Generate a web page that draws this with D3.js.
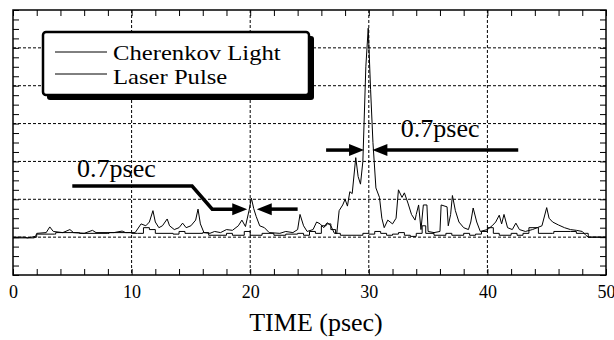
<!DOCTYPE html>
<html><head><meta charset="utf-8">
<script src="https://cdn.jsdelivr.net/npm/d3@7"></script>
<style>html,body{margin:0;padding:0;background:#fff;}svg{display:block;}
text.serif{font-family:"Liberation Serif","Times New Roman",Times,serif;}
</style>
</head><body>
<svg id="chart" width="614" height="340"></svg>
<script>
// ---------- data ----------
const seriesNames = ["Cherenkov Light", "Laser Pulse"];
const xTickLabels = [0, 10, 20, 30, 40, 50];
const xAxisTitle = "TIME (psec)";
const annotationText = "0.7psec";

// Cherenkov light trace: [time psec, signal (arb.)]
const cherenkovTime = [0,1.0,1.2,1.9,2.0,2.8,3.1,3.4,4.2,4.8,5.1,6.0,6.7,7.0,8.5,9.2,9.5,10.3,10.8,11.2,11.5,11.8,12.0,12.3,12.6,13.0,13.2,13.6,14.0,14.3,14.6,15.0,15.4,15.6,15.8,16.1,16.6,17.0,17.5,18.0,18.5,19.0,19.3,19.6,19.9,20.1,20.3,20.5,20.8,21.2,21.6,22.5,23.0,23.6,24.0,24.2,24.5,24.8,25.3,25.6,25.9,26.2,26.5,26.8,27.1,27.3,27.5,27.8,28.0,28.2,28.4,28.6,28.9,29.1,29.3,29.5,29.75,29.95,30.15,30.35,30.6,30.9,31.1,31.3,31.6,32.0,32.3,32.5,32.8,33.0,33.3,33.6,33.9,34.0,34.2,34.4,34.6,34.9,35.0,35.5,36.0,36.1,36.6,36.7,36.9,37.05,37.3,37.6,38.0,38.4,38.6,38.8,39.1,39.4,40.0,40.4,40.7,41.0,41.2,41.4,41.7,42.1,42.4,42.7,43.2,43.8,44.2,44.6,45.0,45.2,45.5,46.0,46.5,47.0,47.5,48.0,48.3,48.5,50];
const cherenkovValue = [1.0,1.0,0.98,1.02,1.1,1.12,1.27,1.15,1.12,1.2,1.12,1.1,1.18,1.12,1.12,1.16,1.12,1.12,1.35,1.3,1.4,1.7,1.4,1.25,1.3,1.48,1.3,1.2,1.25,1.37,1.25,1.3,1.45,1.74,1.35,1.12,1.1,1.15,1.12,1.2,1.18,1.3,1.45,1.28,1.7,2.03,1.75,1.55,1.3,1.25,1.12,1.1,1.15,1.12,1.2,1.6,1.3,1.15,1.2,1.4,1.35,1.25,1.38,1.3,1.1,1.1,1.7,1.85,2.0,1.82,2.2,2.15,3.1,2.6,2.4,3.0,5.5,6.52,4.9,3.5,2.3,2.05,1.5,1.25,1.45,1.35,1.5,2.25,2.05,2.17,1.9,1.6,1.45,1.6,1.85,1.2,1.85,1.85,1.15,1.12,1.15,1.85,1.8,1.3,1.6,2.1,1.7,1.4,1.25,1.2,1.4,1.77,1.4,1.15,1.2,1.3,1.4,1.58,1.35,1.6,1.25,1.2,1.37,1.2,1.15,1.2,1.25,1.3,1.78,1.5,1.4,1.32,1.25,1.2,1.18,1.15,1.05,1.0,1.0];

// Laser pulse trace
const laserTime = [0,1.8,2.0,3.5,3.6,5.5,5.6,8.0,8.1,10.0,10.5,11.0,11.5,12.0,13.5,14.0,14.5,16.0,16.5,18.0,18.5,19.5,20.0,21.0,22.0,23.0,24.0,24.5,25.0,25.5,26.0,26.4,26.8,27.2,27.6,28.5,29.0,29.5,30.0,30.5,31.0,31.5,32.0,32.5,33.0,33.5,34.0,34.5,34.8,35.5,36.5,37.0,38.0,38.5,39.0,39.5,40.0,40.5,41.0,42.0,42.5,43.0,43.5,44.2,44.3,45.5,45.6,47.0,47.5,48.3,48.5,50];
const laserValue = [0.98,1.0,1.08,1.08,1.12,1.12,1.1,1.1,1.12,1.1,1.1,1.25,1.2,1.1,1.08,1.15,1.1,1.12,1.05,1.1,1.05,1.15,1.05,1.1,1.05,1.08,1.1,1.05,1.15,1.1,1.3,1.35,1.2,1.1,1.05,1.05,1.05,1.1,1.08,1.15,1.1,1.05,1.08,1.12,1.05,1.02,1.1,1.3,1.1,1.05,1.1,1.05,1.1,1.05,1.08,1.15,1.25,1.1,1.05,1.1,1.05,1.1,1.25,1.25,1.1,1.1,1.15,1.15,1.1,1.1,1.0,1.0];

// annotation anchor points (data units)
const leftPeakTime = 20.1;
const mainPeakTime = 29.95, mainArrowLevel = 3.3;

// ---------- layout ----------
const svg = d3.select("#chart");
const m = {left: 13, right: 8, top: 10, bottom: 65};
const W = 614, H = 340;
const iw = W - m.left - m.right, ih = H - m.top - m.bottom;
const x = d3.scaleLinear().domain([0, 50]).range([m.left, m.left + iw]);
const y = d3.scaleLinear().domain([0, 7]).range([m.top + ih, m.top]);

const g = svg.append("g");

// grid (dashed)
const grid = g.append("g").attr("stroke", "#000").attr("stroke-width", 1).attr("stroke-dasharray", "3,2");
grid.selectAll("line.v").data([10, 20, 30, 40]).join("line").attr("class", "v")
  .attr("x1", d => x(d)).attr("x2", d => x(d)).attr("y1", y(7)).attr("y2", y(0));
grid.selectAll("line.h").data([1, 2, 3, 4, 5, 6]).join("line").attr("class", "h")
  .attr("y1", d => y(d)).attr("y2", d => y(d)).attr("x1", x(0)).attr("x2", x(50));

// ticks via axes (inward)
const xMinor = d3.range(0, 50.01, 2);
const yMinor = d3.range(0, 7.01, 0.25);
const axB = d3.axisTop(x).tickValues(xMinor).tickSize(6).tickFormat("");
const axT = d3.axisBottom(x).tickValues(xMinor).tickSize(6).tickFormat("");
const axL = d3.axisRight(y).tickValues(yMinor).tickSize(6).tickFormat("");
const axR = d3.axisLeft(y).tickValues(yMinor).tickSize(6).tickFormat("");
function styleAx(sel){ sel.select(".domain").remove(); sel.selectAll("line").attr("stroke","#000").attr("stroke-width",1); }
g.append("g").attr("transform", `translate(0,${y(0)})`).call(axB).call(styleAx);
g.append("g").attr("transform", `translate(0,${y(7)})`).call(axT).call(styleAx);
g.append("g").attr("transform", `translate(${x(0)},0)`).call(axL).call(styleAx);
g.append("g").attr("transform", `translate(${x(50)},0)`).call(axR).call(styleAx);

// tick labels
const axLab = d3.axisBottom(x).tickValues(xTickLabels).tickSize(0).tickPadding(10).tickFormat(d3.format("d"));
const labG = g.append("g").attr("transform", `translate(0,${y(0)})`).call(axLab);
labG.select(".domain").remove();
labG.attr("font-family", null).attr("font-size", null);
labG.selectAll("text").attr("class", "serif").style("font-size", "18px").attr("fill", "#000");

// frame
g.append("rect").attr("x", x(0)).attr("y", y(7)).attr("width", x(50) - x(0)).attr("height", y(0) - y(7))
  .attr("fill", "none").attr("stroke", "#000").attr("stroke-width", 1.5);

// traces
const lineLin = d3.line().x(d => x(d[0])).y(d => y(d[1]));
const lineStep = d3.line().x(d => x(d[0])).y(d => y(d[1])).curve(d3.curveStepAfter);
g.append("path").datum(d3.zip(laserTime, laserValue)).attr("d", lineStep)
  .attr("fill", "none").attr("stroke", "#000").attr("stroke-width", 1);
g.append("path").datum(d3.zip(cherenkovTime, cherenkovValue)).attr("d", lineLin)
  .attr("fill", "none").attr("stroke", "#000").attr("stroke-width", 1);

// annotations
const ann = g.append("g");
function arrowHead(tipX, tipY, dir){ // dir = +1 pointing right, -1 pointing left
  const L = 15, h = 6;
  ann.append("path").attr("d", `M${tipX},${tipY} L${tipX - dir*L},${tipY - h} L${tipX - dir*L},${tipY + h} Z`).attr("fill", "#000");
}
// main peak
const ay = y(mainArrowLevel);
ann.append("line").attr("x1", x(26.4)).attr("x2", x(mainPeakTime - 0.35) - 12).attr("y1", ay).attr("y2", ay).attr("stroke", "#000").attr("stroke-width", 3.5);
arrowHead(x(mainPeakTime - 0.35), ay, 1);
ann.append("line").attr("x1", x(mainPeakTime + 0.35) + 12).attr("x2", x(42.6)).attr("y1", ay).attr("y2", ay).attr("stroke", "#000").attr("stroke-width", 3.5);
arrowHead(x(mainPeakTime + 0.35), ay, -1);
ann.append("text").attr("class", "serif").attr("x", x(32.7)).attr("y", y(3.65)).text(annotationText)
  .style("font-size", "26px").attr("fill", "#000");
// left peak
const ly = y(1.74), uy = y(2.35);
ann.append("path").attr("d", `M${x(5)},${uy} L${x(15.1)},${uy} L${x(16.8)},${ly} L${x(leftPeakTime - 0.35) - 12},${ly}`)
  .attr("fill", "none").attr("stroke", "#000").attr("stroke-width", 3.5).attr("stroke-linejoin", "miter");
arrowHead(x(leftPeakTime - 0.35), ly, 1);
ann.append("line").attr("x1", x(leftPeakTime + 0.45) + 12).attr("x2", x(24)).attr("y1", ly).attr("y2", ly).attr("stroke", "#000").attr("stroke-width", 3.5);
arrowHead(x(leftPeakTime + 0.45), ly, -1);
ann.append("text").attr("class", "serif").attr("x", x(5.4)).attr("y", y(2.59)).text(annotationText)
  .style("font-size", "26px").attr("fill", "#000");

// legend
const lg = g.append("g");
lg.append("rect").attr("x", 47).attr("y", 36).attr("width", 267).attr("height", 64).attr("rx", 3).attr("fill", "#000");
lg.append("rect").attr("x", 43).attr("y", 32).attr("width", 266).attr("height", 63).attr("rx", 3)
  .attr("fill", "#fff").attr("stroke", "#000").attr("stroke-width", 2.5);
seriesNames.forEach((name, i) => {
  const yy = 52 + i * 22;
  lg.append("line").attr("x1", 55).attr("x2", 107).attr("y1", yy).attr("y2", yy).attr("stroke", "#000").attr("stroke-width", 1);
  const t = lg.append("text").attr("class", "serif").attr("x", 113).attr("y", 60 + i * 24).text(name)
    .style("font-size", "22px").attr("fill", "#000");
  const w = t.node().getComputedTextLength();
  t.attr("textLength", w * 1.12).attr("lengthAdjust", "spacingAndGlyphs");
});

// axis title
g.append("text").attr("class", "serif").attr("x", 316).attr("y", 331).attr("text-anchor", "middle").text(xAxisTitle)
  .style("font-size", "26px").attr("fill", "#000");
</script>
</body></html>
